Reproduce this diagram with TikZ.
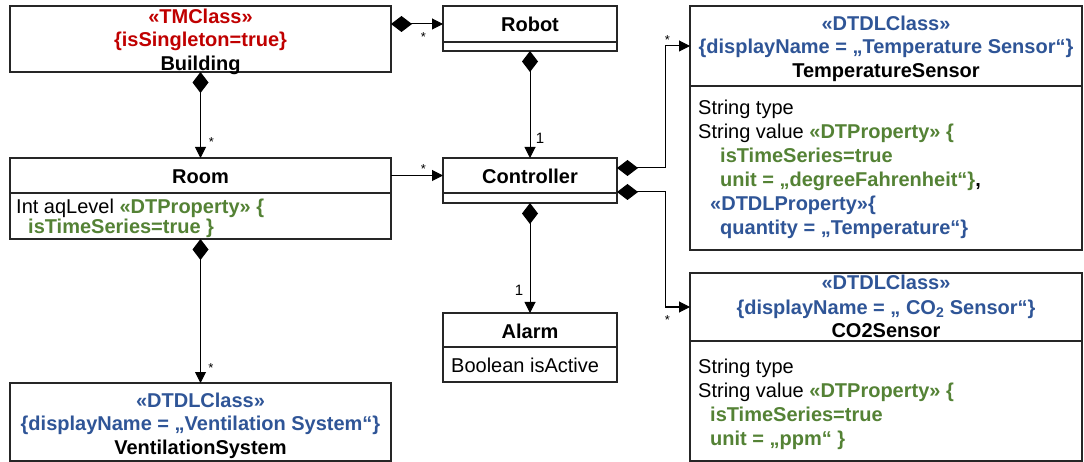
\documentclass[tikz,border=0pt]{standalone}
\usepackage{fontspec}
\setmainfont{Liberation Sans}
\usetikzlibrary{arrows.meta}
\definecolor{tmred}{HTML}{C00000}
\definecolor{dtblue}{HTML}{2F5597}
\definecolor{dtgreen}{HTML}{548235}
\newcommand\mygreen[1]{\textcolor{dtgreen}{\bfseries #1}}
\newcommand\myblue[1]{\textcolor{dtblue}{\bfseries #1}}
\tikzset{
  cls/.style={draw=black!85, line width=1.1pt, anchor=north west, inner sep=0pt, outer sep=0pt},
  hd/.style={font=\fontsize{20}{24}\selectfont\bfseries, inner sep=0pt, anchor=base},
  bd/.style={font=\fontsize{20}{24}\selectfont, inner sep=0pt, anchor=base west},
  ml/.style={font=\fontsize{13}{14}\selectfont, inner sep=0pt},
  mlone/.style={font=\fontsize{15}{16}\selectfont, inner sep=0pt},
  comp/.style={draw=black, line width=1pt, {Diamond[length=21pt,width=16pt]}-{Triangle[length=11pt,width=11pt]}},
  assoc/.style={draw=black, line width=1pt, -{Triangle[length=11pt,width=11pt]}},
}
\begin{document}
\begin{tikzpicture}[x=1pt,y=-1pt]
\useasboundingbox[fill=white] (0,0) rectangle (1084,462);

% class boxes
\node[cls, minimum width=381pt, minimum height=66pt] (building) at (10,6) {};
\node[cls, minimum width=174pt, minimum height=36pt] (robot) at (443,6) {};
\node[cls, minimum width=174pt, minimum height=9pt] (robotb) at (robot.south west) {};
\node[cls, minimum width=381pt, minimum height=35pt] (room) at (10,158) {};
\node[cls, minimum width=381pt, minimum height=46pt] (roomb) at (room.south west) {};
\node[cls, minimum width=174pt, minimum height=35pt] (ctrl) at (443,158) {};
\node[cls, minimum width=174pt, minimum height=10pt] (ctrlb) at (ctrl.south west) {};
\node[cls, minimum width=381pt, minimum height=78pt] (vent) at (10,383) {};
\node[cls, minimum width=174pt, minimum height=34pt] (alarm) at (443,313) {};
\node[cls, minimum width=174pt, minimum height=35pt] (alarmb) at (alarm.south west) {};
\node[cls, minimum width=392pt, minimum height=80pt] (temp) at (690,6) {};
\node[cls, minimum width=392pt, minimum height=164pt] (tempb) at (temp.south west) {};
\node[cls, minimum width=392pt, minimum height=68pt] (co2) at (690,273) {};
\node[cls, minimum width=392pt, minimum height=120pt] (co2b) at (co2.south west) {};

% Building
\node[hd, text=tmred] (bt1) at (200.5,23.5) {«TMClass»};
\node[hd, text=tmred] (bt2) at (200.5,47) {\{isSingleton=true\}};
\node[hd] (bt3) at (200.5,70.5) {Building};
% Robot
\node[hd] (rt1) at (530,32) {Robot};
% Controller
\node[hd] (ct1) at (530,184) {Controller};
% Room
\node[hd] (mt1) at (200.5,184) {Room};
\node[bd] (mb1) at (16,213.5) {Int aqLevel \mygreen{«DTProperty» \{}};
\node[bd] (mb2) at (28,234) {\mygreen{isTimeSeries=true \}}};
% Alarm
\node[hd] (at1) at (530,338) {Alarm};
\node[bd] (ab1) at (451,372) {Boolean isActive};
% Ventilation
\node[hd, text=dtblue] (vt1) at (200.5,407) {«DTDLClass»};
\node[hd, text=dtblue] (vt2) at (200.5,430.5) {\{displayName = „Ventilation System“\}};
\node[hd] (vt3) at (200.5,454) {VentilationSystem};
% Temperature sensor
\node[hd, text=dtblue] (tt1) at (886,31) {«DTDLClass»};
\node[hd, text=dtblue] (tt2) at (886,54) {\{displayName = „Temperature Sensor“\}};
\node[hd] (tt3) at (886,77.5) {TemperatureSensor};
\node[bd] (tb1) at (698,115) {String type};
\node[bd] (tb2) at (698,139) {String value \mygreen{«DTProperty» \{}};
\node[bd] (tb3) at (720,163) {\mygreen{isTimeSeries=true}};
\node[bd] (tb4) at (720,187) {\mygreen{unit = „degreeFahrenheit“\}}\textbf{,}};
\node[bd] (tb5) at (710,211) {\myblue{«DTDLProperty»\{}};
\node[bd] (tb6) at (720,235) {\myblue{quantity = „Temperature“\}}};
% CO2 sensor
\node[hd, text=dtblue] (ot1) at (886,290) {«DTDLClass»};
\node[hd, text=dtblue] (ot2) at (886,314) {\{displayName = „ CO\textsubscript{2} Sensor“\}};
\node[hd] (ot3) at (886,337.5) {CO2Sensor};
\node[bd] (ob1) at (698,373.5) {String type};
\node[bd] (ob2) at (698,397.5) {String value \mygreen{«DTProperty» \{}};
\node[bd] (ob3) at (710,421.5) {\mygreen{isTimeSeries=true}};
\node[bd] (ob4) at (710,445.5) {\mygreen{unit = „ppm“ \}}};

% connectors
\draw[comp] (building.south) -- (room.north);
\draw[comp] (building.east |- robot.west) -- (robot.west);
\draw[comp] (robotb.south) -- (ctrl.north);
\draw[assoc] (room.east) -- (ctrl.west);
\draw[comp] (roomb.south) -- (vent.north);
\draw[comp] (ctrlb.south) -- (alarm.north);
\draw[comp] ([yshift=7.5pt]ctrl.east) -- ++(48,0) |- (temp.west);
\draw[comp] ([yshift=-16.5pt]ctrl.east) -- ++(48,0) |- (co2.west);

% multiplicities
\node[ml] (m1) at (211.5,142.5) {*};
\node[ml] (m2) at (423.3,37.5) {*};
\node[ml] (m3) at (423.3,169) {*};
\node[ml] (m4) at (211,368) {*};
\node[ml] (m5) at (667.3,40.5) {*};
\node[ml] (m6) at (667.3,320) {*};
\node[mlone] (m7) at (540,138) {1};
\node[mlone] (m8) at (519,290) {1};
\end{tikzpicture}
\end{document}
